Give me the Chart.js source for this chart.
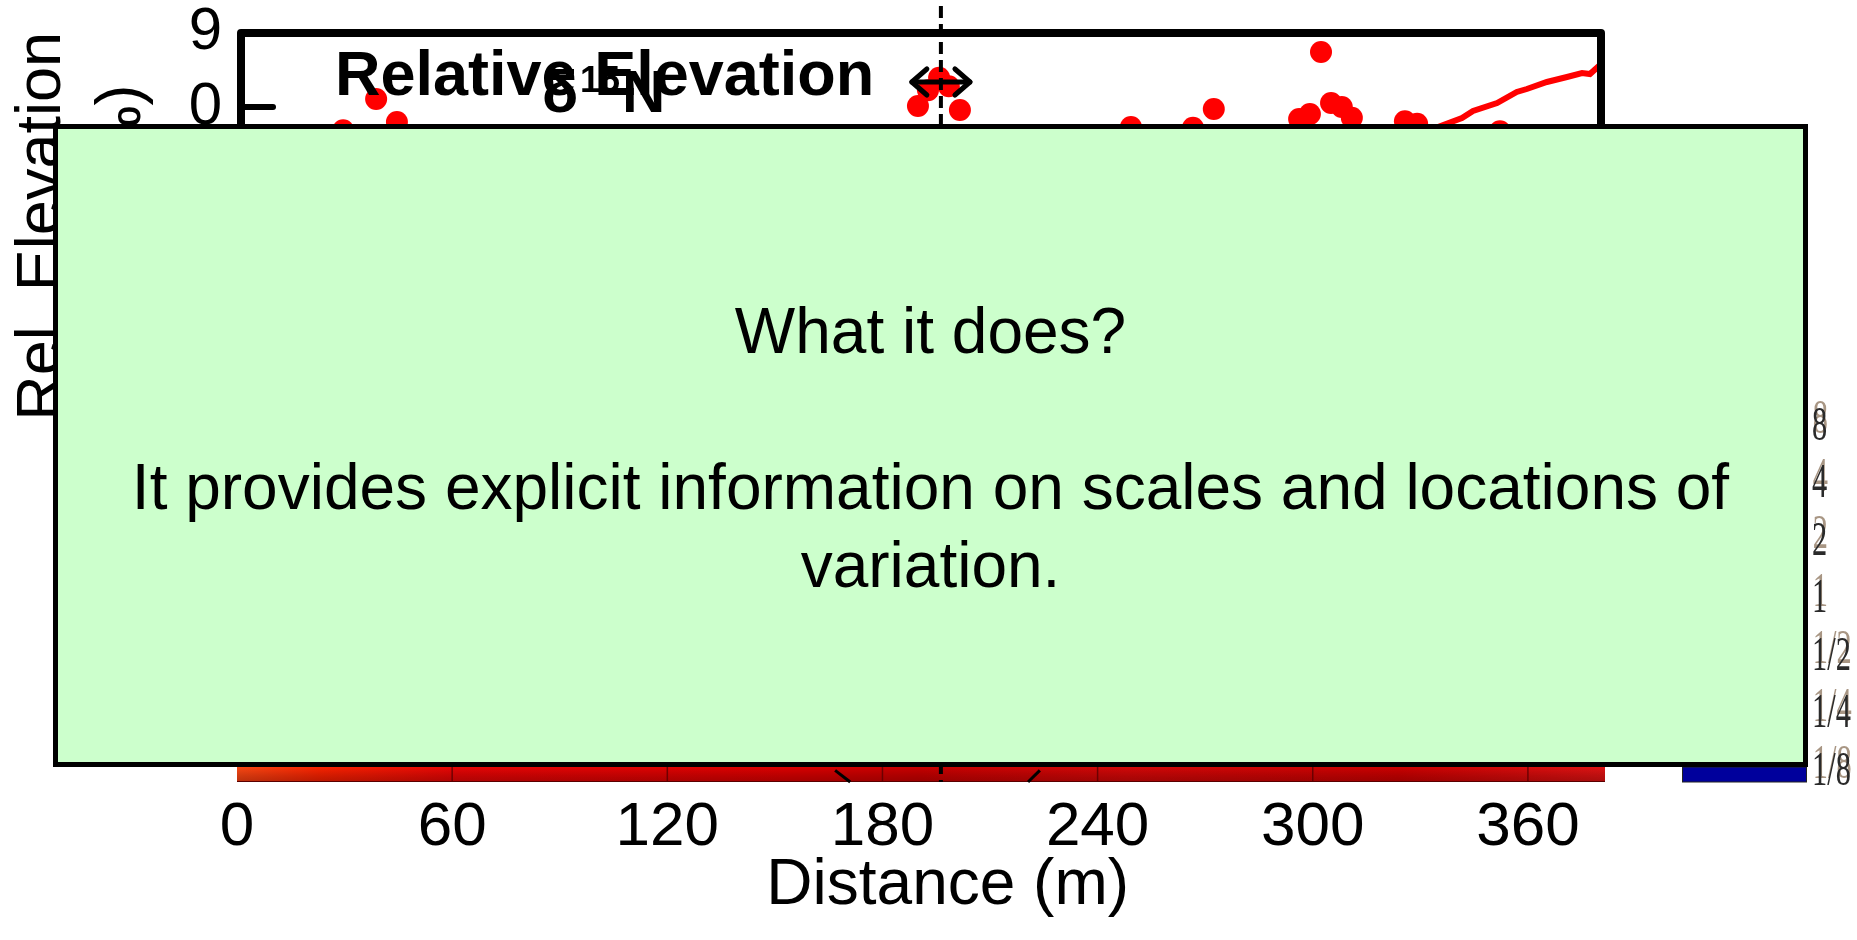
<!DOCTYPE html>
<html><head><meta charset="utf-8">
<script src="https://cdn.jsdelivr.net/npm/chart.js@4.4.1/dist/chart.umd.min.js"></script>
<style>
html,body{margin:0;padding:0;background:#fff;overflow:hidden}
#wrap{position:relative;width:1857px;height:940px}
#c{position:absolute;left:0;top:0}
#note{position:absolute;left:53px;top:124px;width:1755px;height:643px;box-sizing:border-box;background:#ccffcc;border:5px solid #000;font-family:"Liberation Sans",Arial,sans-serif;font-size:64px;line-height:78px;color:#000;text-align:center}
#note .t{position:absolute;left:0;right:0;top:163px;white-space:nowrap}
</style></head><body>
<div id="wrap"><canvas id="c" width="1857" height="940"></canvas>
<div id="note"><div class="t">What it does?<br><br>It provides explicit information on scales and locations of<br>variation.</div></div></div>
<script>
// ---- data ----
const xTickValues = [0, 60, 120, 180, 240, 300, 360];
const xTickLabels = ['0', '60', '120', '180', '240', '300', '360'];
const yTickValues = [9, 0];
const yTickLabels = ['9', '0'];
const pointX = [29.6, 38.8, 44.6, 189.9, 192.7, 195.8, 198.5, 201.6, 249.3, 266.6, 272.4, 296.2, 299.2, 302.3, 305.1, 308.1, 310.9, 325.7, 329.1, 352.2];
const pointY = [-2.8, 0.96, -1.8, 0.12, 2.0, 3.5, 2.5, -0.36, -2.4, -2.5, -0.24, -1.44, -0.84, 6.6, 0.48, 0, -1.3, -1.7, -2.0, -2.9];
const lineX = [330, 334.9, 341.6, 344.7, 351.4, 356.9, 359.7, 365.3, 370.9, 375.1, 377.3, 380.1];
const lineY = [-3.1, -2.4, -1.32, -0.48, 0.48, 1.8, 2.16, 3.0, 3.6, 4.08, 3.96, 5.04];
const colorbarLabels = ['8', '4', '2', '1', '1/2', '1/4', '1/8'];
const dividerX = 196.3;
const arrowX = [188.2, 204.4];
const arrowY = 3.0;
const coiLeftX = [166.8, 171.0], coiLeftY = [-79.6, -81];
const coiRightX = [223.9, 220.6], coiRightY = [-79.6, -81];
const waveletTop = -76;

const FONT = '"Liberation Sans", Arial, sans-serif';

const decor = {
  id: 'decor',
  beforeDatasetsDraw(chart) {
    const {ctx, chartArea: ca, scales: {x, y}} = chart;
    ctx.save();
    // wavelet strip (visible bottom part)
    const top = y.getPixelForValue(waveletTop), bot = ca.bottom;
    const g = ctx.createLinearGradient(ca.left, 0, ca.right, 0);
    g.addColorStop(0, '#ff4a14');
    g.addColorStop(0.06, '#ff2400');
    g.addColorStop(0.16, '#ec0505');
    g.addColorStop(0.4, '#e00000');
    g.addColorStop(0.5, '#cc0000');
    g.addColorStop(0.65, '#d80808');
    g.addColorStop(0.85, '#d00000');
    g.addColorStop(1, '#e41414');
    ctx.fillStyle = g;
    ctx.fillRect(ca.left, top, ca.right - ca.left, bot - top);
    const gv = ctx.createLinearGradient(0, bot - 16, 0, bot);
    gv.addColorStop(0, 'rgba(0,0,0,0)');
    gv.addColorStop(1, 'rgba(60,0,0,0.35)');
    ctx.fillStyle = gv;
    ctx.fillRect(ca.left, bot - 16, ca.right - ca.left, 16);
    ctx.strokeStyle = 'rgba(90,0,0,0.8)';
    ctx.lineWidth = 1.5;
    xTickValues.slice(1).forEach(v => {
      const px = x.getPixelForValue(v);
      ctx.beginPath(); ctx.moveTo(px, top); ctx.lineTo(px, bot); ctx.stroke();
    });
    ctx.strokeStyle = '#5a0000'; ctx.lineWidth = 1;
    ctx.beginPath(); ctx.moveTo(ca.left, bot - 0.5); ctx.lineTo(ca.right, bot - 0.5); ctx.stroke();
    // cone of influence pieces
    ctx.strokeStyle = '#000'; ctx.lineWidth = 3;
    [[coiLeftX, coiLeftY], [coiRightX, coiRightY]].forEach(([xs, ys]) => {
      ctx.beginPath();
      xs.forEach((v, i) => { const px = x.getPixelForValue(v), py = y.getPixelForValue(ys[i]); i ? ctx.lineTo(px, py) : ctx.moveTo(px, py); });
      ctx.stroke();
    });
    ctx.restore();
  },
  afterDatasetsDraw(chart) {
    const {ctx, chartArea: ca, scales: {x, y}} = chart;
    ctx.save();
    // frame of upper panel
    ctx.strokeStyle = '#000'; ctx.lineWidth = 8; ctx.lineJoin = 'round';
    const fb = y.getPixelForValue(-30);
    ctx.beginPath();
    ctx.moveTo(ca.left + 4, fb); ctx.lineTo(ca.left + 4, ca.top + 1); ctx.lineTo(ca.right - 4, ca.top + 1); ctx.lineTo(ca.right - 4, fb);
    ctx.stroke();
    // inward tick at 0
    ctx.lineWidth = 6; ctx.lineCap = 'round';
    const y0 = y.getPixelForValue(0);
    ctx.beginPath(); ctx.moveTo(ca.left + 3, y0); ctx.lineTo(ca.left + 36, y0); ctx.stroke();
    ctx.lineCap = 'butt';
    // dashed divider
    const dx = x.getPixelForValue(dividerX);
    ctx.lineWidth = 4; ctx.setLineDash([12, 6]);
    ctx.beginPath(); ctx.moveTo(dx, 6); ctx.lineTo(dx, ca.bottom); ctx.stroke();
    ctx.setLineDash([]);
    // double arrow
    const ax1 = x.getPixelForValue(arrowX[0]), ax2 = x.getPixelForValue(arrowX[1]), ay = y.getPixelForValue(arrowY);
    ctx.lineWidth = 5; ctx.lineCap = 'round'; ctx.lineJoin = 'round';
    ctx.beginPath(); ctx.moveTo(ax1, ay); ctx.lineTo(ax2, ay); ctx.stroke();
    ctx.beginPath(); ctx.moveTo(ax1 + 15, ay - 13); ctx.lineTo(ax1, ay); ctx.lineTo(ax1 + 15, ay + 13); ctx.stroke();
    ctx.beginPath(); ctx.moveTo(ax2 - 15, ay - 13); ctx.lineTo(ax2, ay); ctx.lineTo(ax2 - 15, ay + 13); ctx.stroke();
    // panel titles
    ctx.fillStyle = '#000'; ctx.textBaseline = 'alphabetic'; ctx.textAlign = 'left';
    ctx.font = 'bold 63px ' + FONT;
    ctx.fillText('Relative Elevation', ca.left + 98, 95);
    ctx.font = 'bold 60px ' + FONT;
    ctx.fillText('δ', ca.left + 305, 112);
    ctx.font = 'bold 36px ' + FONT;
    ctx.fillText('15', ca.left + 343, 92);
    ctx.font = 'bold 60px ' + FONT;
    ctx.fillText('N', ca.left + 385, 112);
    ctx.restore();
  },
  afterDraw(chart) {
    const {ctx, chartArea: ca} = chart;
    ctx.save();
    // blue end of the wavelet colour bar
    ctx.fillStyle = '#00009c';
    ctx.fillRect(1682, ca.bottom - 15, 125, 15);
    ctx.strokeStyle = '#222'; ctx.lineWidth = 1;
    ctx.strokeRect(1682.5, ca.bottom - 15, 124, 15);
    // colour bar labels (ghosted)
    ctx.textBaseline = 'middle'; ctx.textAlign = 'left';
    ctx.font = '38px "Liberation Serif", "Times New Roman", serif';
    colorbarLabels.forEach((t, i) => {
      const yy = 427 + i * 57.5;
      ctx.save(); ctx.translate(1812, yy); ctx.scale(0.8, 1.3);
      ctx.fillStyle = 'rgba(110,80,50,0.6)';
      ctx.fillText(t, 1, -5);
      ctx.fillStyle = '#2a2a2a';
      ctx.fillText(t, 0, 0);
      ctx.restore();
    });
    ctx.restore();
  }
};

new Chart(document.getElementById('c'), {
  type: 'scatter',
  data: {
    datasets: [
      {
        label: 'δ15N',
        data: pointX.map((v, i) => ({x: v, y: pointY[i]})),
        backgroundColor: '#ff0000', borderWidth: 0, pointRadius: 11, pointHoverRadius: 11
      },
      {
        label: 'Relative Elevation',
        type: 'line',
        data: lineX.map((v, i) => ({x: v, y: lineY[i]})),
        borderColor: '#ff0000', borderWidth: 6, pointRadius: 0, fill: false, tension: 0
      }
    ]
  },
  options: {
    responsive: false, animation: false,
    layout: {padding: {left: 0, top: 32, right: 252, bottom: 0}},
    plugins: {legend: {display: false}, tooltip: {enabled: false}},
    scales: {
      x: {
        type: 'linear', min: 0, max: 381.5,
        afterBuildTicks: s => { s.ticks = xTickValues.map(v => ({value: v})); },
        afterFit: s => { s.height = 158; s.paddingLeft = 0; s.paddingRight = 0; },
        ticks: {callback: (v, i) => xTickLabels[i], font: {family: FONT, size: 62}, color: '#000', padding: 9, maxRotation: 0, autoSkip: false},
        grid: {display: false, drawTicks: false}, border: {display: false},
        title: {display: true, text: '\u00A0\u00A0\u00A0Distance (m)', font: {family: FONT, size: 64}, color: '#000', padding: {top: 0, bottom: 15}}
      },
      y: {
        type: 'linear', min: -81, max: 9,
        afterBuildTicks: s => { s.ticks = yTickValues.map(v => ({value: v})); },
        afterFit: s => { s.width = 237; s.paddingTop = 0; s.paddingBottom = 0; },
        ticks: {callback: (v, i) => yTickLabels[i], font: {family: FONT, size: 60}, color: '#000', padding: 15, autoSkip: false},
        grid: {display: false, drawTicks: false}, border: {display: false},
        title: {display: true, align: 'end', text: ['Rel. Elevation', 'δ¹⁵N (‰)\u00A0\u00A0\u00A0'], font: {family: FONT, size: 63, lineHeight: 1.27}, color: '#000', padding: {top: 3, bottom: 0}}
      }
    }
  },
  plugins: [decor]
});
</script>
</body></html>
